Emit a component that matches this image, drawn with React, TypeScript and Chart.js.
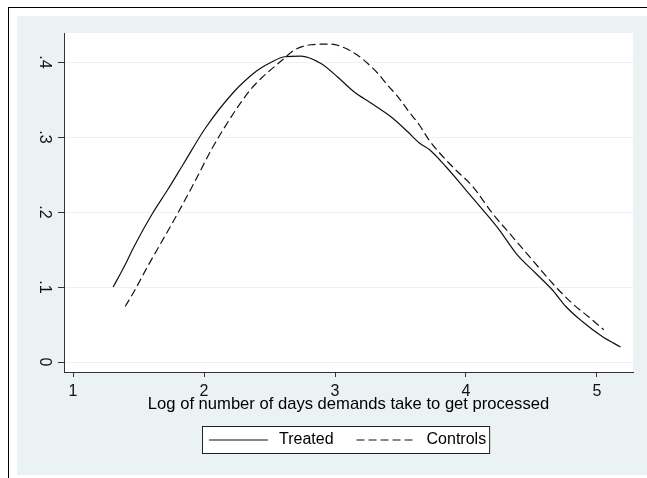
import React, { useEffect, useRef } from "react";
import { Chart, registerables } from "chart.js";

Chart.register(...registerables);

const treatedX = [1.306, 1.39, 1.466, 1.606, 1.72, 1.846, 2.011, 2.227, 2.379, 2.435, 2.506, 2.613, 2.74, 2.893, 3.02, 3.147, 3.277, 3.427, 3.555, 3.644, 3.722, 3.849, 4.001, 4.128, 4.255, 4.382, 4.534, 4.66, 4.762, 4.888, 5.04, 5.18];
const treatedY = [0.1, 0.127, 0.154, 0.198, 0.229, 0.265, 0.312, 0.36, 0.385, 0.392, 0.399, 0.407, 0.408, 0.398, 0.38, 0.36, 0.345, 0.327, 0.307, 0.292, 0.283, 0.26, 0.229, 0.203, 0.176, 0.145, 0.118, 0.096, 0.074, 0.054, 0.034, 0.02];
const controlsX = [1.398, 1.466, 1.568, 1.669, 1.77, 1.922, 2.062, 2.227, 2.354, 2.435, 2.6, 2.69, 2.817, 2.969, 3.071, 3.173, 3.25, 3.326, 3.402, 3.479, 3.555, 3.644, 3.722, 3.899, 4.051, 4.203, 4.355, 4.507, 4.66, 4.812, 4.938, 5.052];
const controlsY = [0.074, 0.094, 0.127, 0.158, 0.189, 0.238, 0.285, 0.332, 0.363, 0.378, 0.403, 0.416, 0.423, 0.424, 0.419, 0.409, 0.398, 0.385, 0.369, 0.354, 0.336, 0.316, 0.295, 0.26, 0.234, 0.198, 0.167, 0.136, 0.105, 0.078, 0.06, 0.043];

const seriesLabels = ["Treated", "Controls"];
const xTicks = [1, 2, 3, 4, 5];
const xTickLabels = ["1", "2", "3", "4", "5"];
const yTicks = [0, 0.1, 0.2, 0.3, 0.4];
const yTickLabels = ["0", ".1", ".2", ".3", ".4"];
const xTitle = "Log of number of days demands take to get processed";

const W = 647;
const H = 478;
const BG = "#EAF2F3";
const FONT = "'Liberation Sans', Arial, sans-serif";

const framePlugin = {
  id: "frame",
  beforeDraw(chart: any) {
    const ctx = chart.ctx;
    const { left, top, right, bottom } = chart.chartArea;
    ctx.save();
    ctx.fillStyle = "#ffffff";
    ctx.fillRect(0, 0, W, H);
    ctx.fillStyle = BG;
    ctx.fillRect(17, 16, W - 17, 475 - 16);
    ctx.fillStyle = "#ffffff";
    ctx.fillRect(left, top, right - left, bottom - top);
    ctx.fillStyle = "#000000";
    ctx.fillRect(8, 7, W - 8, 1);
    ctx.fillRect(8, 7, 1, H - 7);
    ctx.restore();
  },
};

const legendPlugin = {
  id: "boxLegend",
  afterDraw(chart: any) {
    const ctx = chart.ctx;
    ctx.save();
    ctx.font = `16px ${FONT}`;
    const items = chart.data.datasets.map((d: any) => ({
      label: d.label as string,
      dash: (d.borderDash || []) as number[],
      color: d.borderColor as string,
    }));
    const lineLen = 59;
    const gapLT = 11;
    const gapItems = 23;
    const padL = 7;
    const padR = 3;
    const widths = items.map((it: any) => ctx.measureText(it.label).width);
    let total = padL + padR + gapItems * (items.length - 1);
    widths.forEach((w: number) => (total += lineLen + gapLT + w));
    const cx = (chart.chartArea.left + chart.chartArea.right) / 2 - 3;
    const top = 426;
    const h = 27;
    const left = Math.round(cx - total / 2);
    ctx.fillStyle = "#ffffff";
    ctx.fillRect(left, top, total, h);
    ctx.strokeStyle = "#222";
    ctx.lineWidth = 1;
    ctx.strokeRect(left + 0.5, top + 0.5, total, h);
    let x = left + padL;
    const y = top + h / 2 + 0.5;
    items.forEach((it: any, i: number) => {
      ctx.beginPath();
      ctx.setLineDash(it.dash);
      ctx.strokeStyle = it.color;
      ctx.lineWidth = 1.2;
      ctx.moveTo(x, y);
      ctx.lineTo(x + lineLen, y);
      ctx.stroke();
      ctx.setLineDash([]);
      x += lineLen + gapLT;
      ctx.fillStyle = "#000";
      ctx.textBaseline = "middle";
      ctx.textAlign = "left";
      ctx.fillText(it.label, x, y);
      x += widths[i] + gapItems;
    });
    ctx.restore();
  },
};

export default function App() {
  const ref = useRef<HTMLCanvasElement | null>(null);
  useEffect(() => {
    if (!ref.current) return;
    Chart.defaults.font.family = FONT;
    const chart = new Chart(ref.current, {
      type: "line",
      data: {
        datasets: [
          {
            label: seriesLabels[0],
            data: treatedX.map((x, i) => ({ x, y: treatedY[i] })),
            borderColor: "#111111",
            borderWidth: 1.2,
            pointRadius: 0,
            cubicInterpolationMode: "monotone",
            fill: false,
          },
          {
            label: seriesLabels[1],
            data: controlsX.map((x, i) => ({ x, y: controlsY[i] })),
            borderColor: "#111111",
            borderWidth: 1.2,
            borderDash: [8, 4],
            pointRadius: 0,
            cubicInterpolationMode: "monotone",
            fill: false,
          },
        ],
      },
      options: {
        animation: false,
        responsive: false,
        events: [],
        layout: { padding: { left: 17, top: 33, right: 14, bottom: 0 } },
        plugins: {
          legend: { display: false },
          tooltip: { enabled: false },
          title: { display: false },
        },
        scales: {
          x: {
            type: "linear",
            min: 0.931,
            max: 5.275,
            afterFit: (s: any) => {
              s.height = 106;
            },
            afterBuildTicks: (s: any) => {
              s.ticks = xTicks.map((v) => ({ value: v }));
            },
            ticks: {
              callback: (v: any) => xTickLabels[xTicks.indexOf(Number(v))] ?? "",
              font: { size: 16 },
              color: "#111",
              padding: 5,
              maxRotation: 0,
              minRotation: 0,
            },
            grid: {
              drawOnChartArea: false,
              drawTicks: true,
              tickLength: 5,
              tickColor: "#333",
            },
            border: { display: true, color: "#333", width: 1 },
            title: {
              display: true,
              text: xTitle,
              font: { size: 16.6 },
              color: "#000",
              padding: { top: 0, bottom: 64 },
            },
          },
          y: {
            type: "linear",
            min: -0.0133,
            max: 0.4387,
            afterFit: (s: any) => {
              s.width = 47;
            },
            afterBuildTicks: (s: any) => {
              s.ticks = yTicks.map((v) => ({ value: v }));
            },
            ticks: {
              callback: (v: any) => {
                const idx = yTicks.findIndex((t) => Math.abs(t - Number(v)) < 1e-9);
                return idx >= 0 ? yTickLabels[idx] : "";
              },
              font: { size: 16 },
              color: "#111",
              padding: 7,
              minRotation: -90,
              maxRotation: -90,
              crossAlign: "center",
            },
            grid: {
              color: BG,
              lineWidth: 1,
              drawTicks: true,
              tickLength: 6,
              tickColor: "#333",
            },
            border: { display: true, color: "#333", width: 1 },
          },
        },
      },
      plugins: [framePlugin, legendPlugin],
    });
    return () => chart.destroy();
  }, []);
  return (
    <div style={{ position: "absolute", left: 0, top: 0, width: W, height: H }}>
      <canvas ref={ref} width={W} height={H} style={{ display: "block", width: W, height: H }} />
    </div>
  );
}
